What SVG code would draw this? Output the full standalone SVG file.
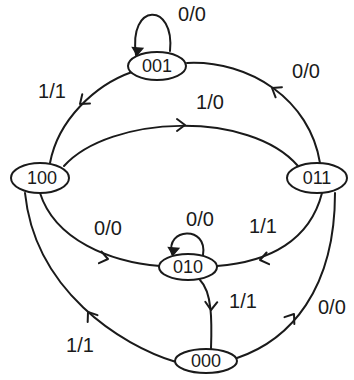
<svg xmlns="http://www.w3.org/2000/svg" width="354" height="380" viewBox="0 0 354 380">
<style>
.e{fill:none;stroke:#1a1a1a;stroke-width:2;stroke-linecap:round}
.n{fill:#fff;stroke:#1a1a1a;stroke-width:2}
.t{font-family:"Liberation Sans",Arial,sans-serif;font-size:18px;fill:#1a1a1a;text-anchor:middle}
.l{font-family:"Liberation Sans",Arial,sans-serif;font-size:20px;fill:#1a1a1a;text-anchor:middle}
</style>
<defs>
<path id="ah" d="M-8,-6 L0,0 L-8,6" fill="none" stroke="#1a1a1a" stroke-width="2" stroke-linecap="round" stroke-linejoin="round"/>
<path id="fh" d="M-7,-5 L0,0 L-7,5 Z" fill="#1a1a1a" stroke="#1a1a1a" stroke-width="1.5"/>
</defs>
<rect width="354" height="380" fill="#fff"/>
<g id="connectors">
<path class="e" d="M136,55 C128,2 175,2 170,51"/>
<use href="#fh" transform="translate(137,55) rotate(95)"/>
<path class="e" d="M132,72 C95,85 58,120 50,163"/>
<use href="#ah" transform="translate(80,104) rotate(140)"/>
<path class="e" d="M187,63 C250,60 310,100 320,163"/>
<use href="#ah" transform="translate(272,88) rotate(212)"/>
<path class="e" d="M64,166 C110,115 250,110 298,166"/>
<use href="#ah" transform="translate(185,125) rotate(0)"/>
<path class="e" d="M40,193 C55,240 110,262 160,266"/>
<use href="#ah" transform="translate(108,259) rotate(12)"/>
<path class="e" d="M322,193 C310,240 270,262 217,266"/>
<use href="#ah" transform="translate(260,260) rotate(168)"/>
<path class="e" d="M172,254 C165,228 208,225 203,255"/>
<use href="#fh" transform="translate(173,255) rotate(95)"/>
<path class="e" d="M200,280 C212,292 212,320 211,349"/>
<use href="#ah" transform="translate(211,310) rotate(92)"/>
<path class="e" d="M176,362 C120,345 35,290 25,193"/>
<use href="#ah" transform="translate(88,312) rotate(235)"/>
<path class="e" d="M237,358 C290,340 335,290 335,193"/>
<use href="#ah" transform="translate(294,314) rotate(305)"/>
</g>
<g id="n001"><ellipse class="n" cx="157" cy="66" rx="29" ry="14"/><text class="t" x="157" y="72">001</text></g>
<g id="n100"><ellipse class="n" cx="40" cy="178" rx="29" ry="15"/><text class="t" x="42" y="184">100</text></g>
<g id="n011"><ellipse class="n" cx="317" cy="178" rx="30" ry="15"/><text class="t" x="317" y="184">011</text></g>
<g id="n010"><ellipse class="n" cx="188" cy="267" rx="29" ry="13"/><text class="t" x="188" y="273">010</text></g>
<g id="n000"><ellipse class="n" cx="206" cy="361" rx="31" ry="12"/><text class="t" x="206" y="367">000</text></g>
<g id="labels">
<text class="l" x="192" y="21">0/0</text>
<text class="l" x="52" y="98">1/1</text>
<text class="l" x="306" y="78">0/0</text>
<text class="l" x="210" y="109">1/0</text>
<text class="l" x="108" y="235">0/0</text>
<text class="l" x="200" y="226">0/0</text>
<text class="l" x="263" y="233">1/1</text>
<text class="l" x="243" y="308">1/1</text>
<text class="l" x="80" y="352">1/1</text>
<text class="l" x="318" y="314" style="text-anchor:start">0/0</text>
</g>
</svg>
